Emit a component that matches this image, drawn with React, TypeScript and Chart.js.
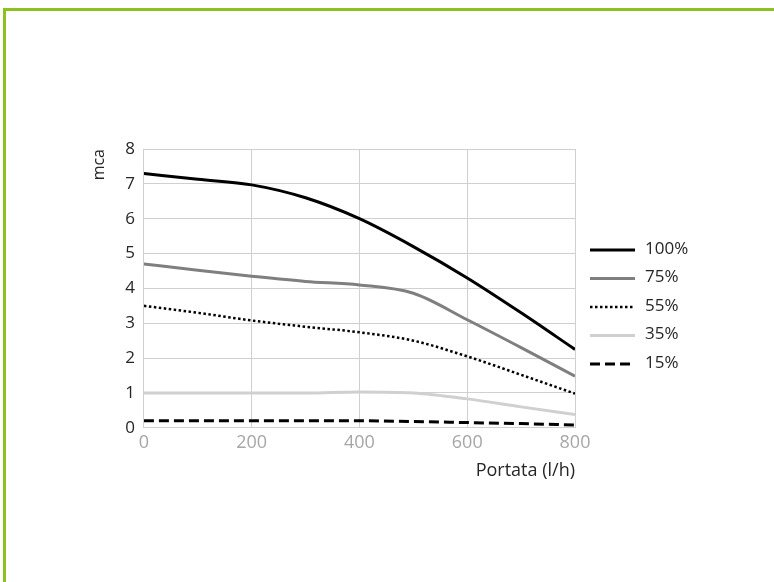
import React, { useEffect, useRef } from "react";
import { Chart, registerables } from "chart.js";

Chart.register(...registerables);

const flow = [0, 100, 200, 300, 400, 500, 600, 700, 800];
const seriesNames = ["100%", "75%", "55%", "35%", "15%"];
const p100 = [7.3, 7.13, 6.97, 6.6, 6.0, 5.2, 4.3, 3.3, 2.25];
const p75 = [4.7, 4.52, 4.35, 4.2, 4.1, 3.86, 3.1, 2.3, 1.48];
const p55 = [3.5, 3.3, 3.08, 2.9, 2.74, 2.5, 2.05, 1.52, 0.98];
const p35 = [1.0, 1.0, 1.0, 1.0, 1.03, 1.0, 0.83, 0.6, 0.38];
const p15 = [0.2, 0.2, 0.2, 0.2, 0.2, 0.18, 0.15, 0.12, 0.08];

const FONT = "'Open Sans', 'Noto Sans', sans-serif";

const toPts = (vals: number[]) => vals.map((y, i) => ({ x: flow[i], y }));

const lineLegend = {
  id: "lineLegend",
  afterDraw(chart: any) {
    const { ctx, chartArea } = chart;
    const datasets = chart.data.datasets;
    const spacing = 28.5;
    const midY = 306;
    const startY = midY - (spacing * (datasets.length - 1)) / 2;
    const x0 = chartArea.right + 15;
    const x1 = x0 + 45;
    ctx.save();
    datasets.forEach((ds: any, i: number) => {
      const y = startY + i * spacing;
      ctx.beginPath();
      ctx.strokeStyle = ds.borderColor;
      ctx.lineWidth = ds.borderWidth;
      ctx.setLineDash(ds.borderDash || []);
      ctx.lineCap = "butt";
      ctx.moveTo(x0, y + 1);
      ctx.lineTo(x1, y + 1);
      ctx.stroke();
      ctx.setLineDash([]);
      ctx.fillStyle = "#262626";
      ctx.font = `17px ${FONT}`;
      ctx.textBaseline = "middle";
      ctx.textAlign = "left";
      ctx.fillText(ds.label, x1 + 10, y);
    });
    ctx.restore();
  },
};

export default function App() {
  const ref = useRef<HTMLCanvasElement | null>(null);

  useEffect(() => {
    if (!ref.current) return;
    const styles = [
      { color: "#000000", width: 3, dash: [] as number[] },
      { color: "#7f7f7f", width: 3, dash: [] as number[] },
      { color: "#000000", width: 2.5, dash: [2.5, 2.5] },
      { color: "#d0d0d0", width: 3, dash: [] as number[] },
      { color: "#000000", width: 3, dash: [10, 5] },
    ];
    const vals = [p100, p75, p55, p35, p15];
    const chart = new Chart(ref.current, {
      type: "line",
      data: {
        datasets: vals.map((v, i) => ({
          label: seriesNames[i],
          data: toPts(v),
          borderColor: styles[i].color,
          backgroundColor: styles[i].color,
          borderWidth: styles[i].width,
          borderDash: styles[i].dash,
          pointRadius: 0,
          fill: false,
          cubicInterpolationMode: "monotone" as const,
          borderCapStyle: "butt" as const,
        })),
      },
      options: {
        responsive: false,
        animation: false,
        layout: { padding: { left: 90, top: 149, right: 199, bottom: 100 } },
        plugins: {
          tooltip: { enabled: false },
          legend: { display: false },
        },
        scales: {
          x: {
            type: "linear",
            min: 0,
            max: 800,
            ticks: { stepSize: 200, color: "#a6a6a6", font: { family: FONT, size: 18 }, padding: 4 },
            grid: { color: "#d0d0d0", drawTicks: false, lineWidth: 1 },
            border: { color: "#d0d0d0" },
            title: {
              display: true,
              text: "Portata (l/h)",
              align: "end",
              color: "#262626",
              font: { family: FONT, size: 18 },
              padding: { top: 3, bottom: 0 },
            },
          },
          y: {
            min: 0,
            max: 8,
            ticks: { stepSize: 1, color: "#262626", font: { family: FONT, size: 17 }, padding: 9 },
            grid: { color: "#d0d0d0", drawTicks: false, lineWidth: 1 },
            border: { color: "#d0d0d0" },
            title: {
              display: true,
              text: "mca",
              align: "end",
              color: "#262626",
              font: { family: FONT, size: 16 },
              padding: { top: 0, bottom: 7 },
            },
          },
        },
      },
      plugins: [lineLegend],
    });
    return () => chart.destroy();
  }, []);

  return (
    <div style={{ position: "fixed", left: 0, top: 0, width: 774, height: 582, overflow: "hidden", background: "#fff" }}>
      <div
        style={{
          position: "absolute",
          left: 3,
          top: 8,
          width: 820,
          height: 640,
          border: "3px solid #8cc21e",
          boxSizing: "border-box",
        }}
      />
      <canvas ref={ref} width={774} height={582} style={{ position: "absolute", left: 0, top: 0 }} />
    </div>
  );
}
